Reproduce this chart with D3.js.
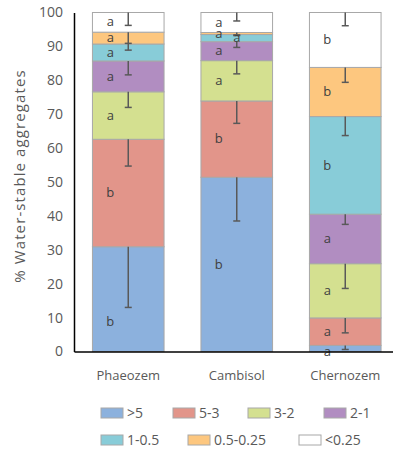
<!DOCTYPE html>
<html>
<head>
<meta charset="utf-8">
<script src="https://cdn.jsdelivr.net/npm/d3@7"></script>
<style>
  body { margin: 0; background: #fff; }
  svg { display: block; font-family: "Open Sans", sans-serif; }
</style>
</head>
<body>
<svg id="canvas" width="393" height="451"></svg>
<script>
const categories = ["Phaeozem", "Cambisol", "Chernozem"];
const fractions = [">5", "5-3", "3-2", "2-1", "1-0.5", "0.5-0.25", "<0.25"];
const yTicks = [0, 10, 20, 30, 40, 50, 60, 70, 80, 90, 100];

// % of each fraction, ordered as categories
const gt5 = [30.9, 51.4, 1.8];
const f5_3 = [31.7, 22.5, 8.1];
const f3_2 = [14.0, 11.9, 16.0];
const f2_1 = [9.1, 5.6, 14.6];
const f1_05 = [5.0, 2.1, 28.8];
const f05_025 = [3.5, 0.6, 14.5];
const lt025 = [5.8, 5.9, 16.2];

// minus error bars
const err_gt5 = [17.9, 12.9, 1.2];
const err_5_3 = [7.9, 6.6, 4.4];
const err_3_2 = [4.6, 3.9, 7.3];
const err_2_1 = [4.1, 1.7, 3.0];
const err_1_05 = [1.8, 0.3, 5.6];
const err_05_025 = [3.3, 0.7, 4.4];
const err_lt025 = [3.8, 2.5, 3.9];

// significance letters
const let_gt5 = ["b", "b", "a"];
const let_5_3 = ["b", "b", "a"];
const let_3_2 = ["a", "a", "a"];
const let_2_1 = ["a", "a", "a"];
const let_1_05 = ["a", "a", "b"];
const let_05_025 = ["a", "a", "b"];
const let_lt025 = ["a", "a", "b"];

const colors = ["#8cb1dd", "#e2958a", "#d4e090", "#b18dc1", "#88ccd8", "#fdc77f", "#ffffff"];

const series = [gt5, f5_3, f3_2, f2_1, f1_05, f05_025, lt025];
const errors = [err_gt5, err_5_3, err_3_2, err_2_1, err_1_05, err_05_025, err_lt025];
const letters = [let_gt5, let_5_3, let_3_2, let_2_1, let_1_05, let_05_025, let_lt025];

const table = categories.map((c, i) => {
  const row = { cat: c };
  fractions.forEach((f, j) => row[f] = series[j][i]);
  return row;
});

const svg = d3.select("#canvas");

const x = d3.scaleBand()
  .domain(categories)
  .range([74, 399.5])
  .paddingInner(0.34)
  .paddingOuter(0.17);

const y = d3.scaleLinear()
  .domain([0, 100])
  .range([351.5, 12.5]);

const stacked = d3.stack().keys(fractions)(table);

// bars
const layers = svg.append("g")
  .selectAll("g")
  .data(stacked)
  .join("g")
  .attr("fill", (d, i) => colors[i]);

layers.selectAll("rect")
  .data(d => d)
  .join("rect")
  .attr("x", d => x(d.data.cat))
  .attr("width", x.bandwidth())
  .attr("y", d => y(d[1]))
  .attr("height", d => y(d[0]) - y(d[1]))
  .attr("stroke", "#a8a8a8")
  .attr("stroke-width", 1);

// error bars (minus only, from top of each segment)
const errG = svg.append("g")
  .attr("stroke", "#595959")
  .attr("stroke-width", 1.5);

stacked.forEach((layer, j) => {
  layer.forEach((d, i) => {
    const cx = x(d.data.cat) + x.bandwidth() / 2;
    const lo = d[1] - errors[j][i];
    errG.append("line")
      .attr("x1", cx).attr("x2", cx)
      .attr("y1", y(d[1])).attr("y2", y(lo));
    errG.append("line")
      .attr("x1", cx - 3.5).attr("x2", cx + 3.5)
      .attr("y1", y(lo)).attr("y2", y(lo));
  });
});

// letters
const letG = svg.append("g")
  .attr("font-size", 13)
  .attr("fill", "#404040")
  .attr("text-anchor", "middle");

stacked.forEach((layer, j) => {
  layer.forEach((d, i) => {
    let v = (d[0] + d[1]) / 2;
    let dx = -18;
    if (j === 0 && i === 0) v = 8.8;   // Phaeozem >5 sits low
    if (j === 4 && i === 1) dx = 0;    // Cambisol 1-0.5 sits on the bar centre
    if (j === 0 && i === 2) v = 0;
    letG.append("text")
      .attr("x", x(d.data.cat) + x.bandwidth() / 2 + dx)
      .attr("y", y(v))
      .attr("dy", "0.32em")
      .text(letters[j][i]);
  });
});

// axes
const yAxis = svg.append("g")
  .attr("transform", "translate(74,0)")
  .call(d3.axisLeft(y).tickValues(yTicks).tickSize(0).tickPadding(11));
yAxis.select(".domain").attr("stroke", "#000").attr("stroke-width", 1.5);
yAxis.selectAll("text").attr("font-size", 14).attr("fill", "#595959")
  .attr("font-family", "Open Sans, sans-serif");

const xAxis = svg.append("g")
  .attr("transform", "translate(0,351.5)")
  .call(d3.axisBottom(x).tickSize(0).tickPadding(19));
xAxis.select(".domain").attr("stroke", "#000").attr("stroke-width", 1.5);
xAxis.selectAll("text").attr("font-size", 13).attr("fill", "#595959")
  .attr("font-family", "Open Sans, sans-serif");

svg.append("text")
  .attr("transform", "translate(20,176) rotate(-90)")
  .attr("text-anchor", "middle")
  .attr("dy", "0.35em")
  .attr("font-size", 15)
  .attr("letter-spacing", 1.1)
  .attr("fill", "#595959")
  .text("% Water-stable aggregates");

// legend
const legendPos = [[101, 413], [173, 413], [248, 413], [324, 413], [101, 440], [188, 440], [299, 440]];
const legend = svg.append("g")
  .selectAll("g")
  .data(fractions)
  .join("g")
  .attr("transform", (d, i) => `translate(${legendPos[i][0]},${legendPos[i][1]})`);
legend.append("rect")
  .attr("x", 0).attr("y", -5)
  .attr("width", 22).attr("height", 10)
  .attr("fill", (d, i) => colors[i])
  .attr("stroke", "#a8a8a8");
legend.append("text")
  .attr("x", 26)
  .attr("dy", "0.35em")
  .attr("font-size", 14)
  .attr("fill", "#595959")
  .text(d => d);
</script>
</body>
</html>
